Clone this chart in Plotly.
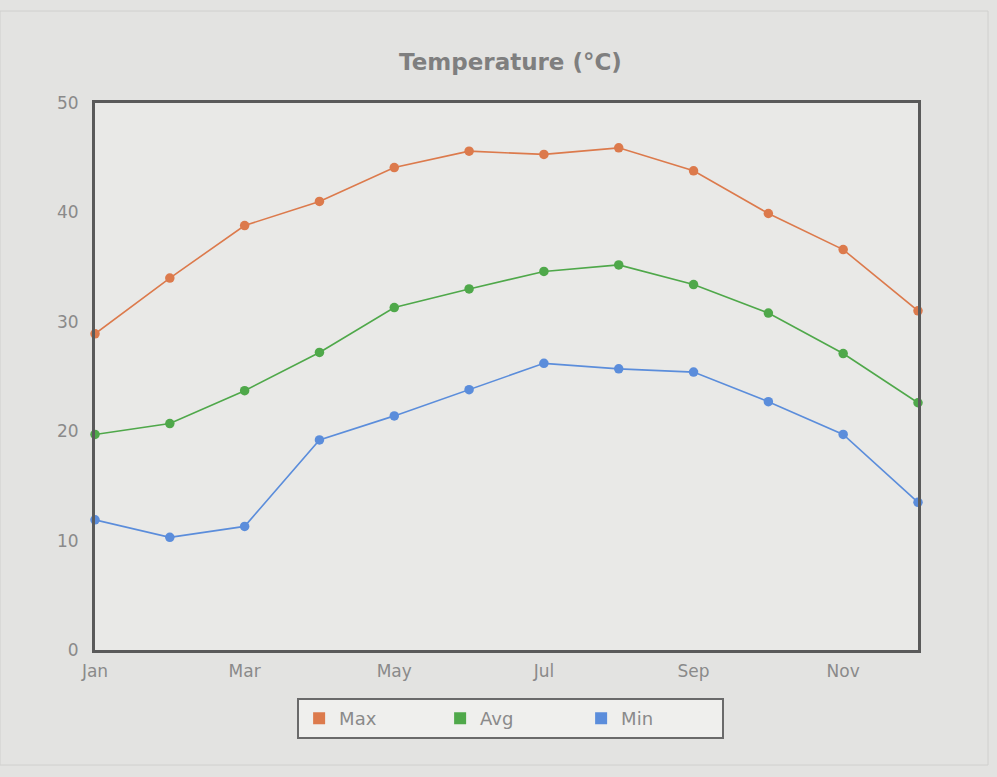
import plotly.graph_objects as go

months = ["Jan", "Feb", "Mar", "Apr", "May", "Jun", "Jul", "Aug", "Sep", "Oct", "Nov", "Dec"]
max_temp = [28.9, 34.0, 38.8, 41.0, 44.1, 45.6, 45.3, 45.9, 43.8, 39.9, 36.6, 31.0]
avg_temp = [19.7, 20.7, 23.7, 27.2, 31.3, 33.0, 34.6, 35.2, 33.4, 30.8, 27.1, 22.6]
min_temp = [11.9, 10.3, 11.3, 19.2, 21.4, 23.8, 26.2, 25.7, 25.4, 22.7, 19.7, 13.5]
x_ticks = ["Jan", "Mar", "May", "Jul", "Sep", "Nov"]

series = [
    ("Max", max_temp, "#dc7a4c"),
    ("Avg", avg_temp, "#4fa84a"),
    ("Min", min_temp, "#5b8ddb"),
]

xs = list(range(len(months)))
fig = go.Figure()
for name, vals, color in series:
    fig.add_trace(go.Scatter(
        x=xs, y=vals, mode="lines+markers", name=name,
        line=dict(color=color, width=1.6),
        marker=dict(color=color, size=9.5),
        cliponaxis=False, showlegend=False,
        hovertext=months,
    ))
for name, vals, color in series:
    fig.add_trace(go.Scatter(
        x=[None], y=[None], mode="markers", name=name,
        marker=dict(color=color, size=14, symbol="square"),
        showlegend=True,
    ))

fig.update_layout(
    width=997, height=777,
    margin=dict(l=95, r=79, t=103, b=127),
    paper_bgcolor="#e3e3e1",
    plot_bgcolor="#e9e9e7",
    font=dict(family="DejaVu Sans", color="#8a8a8a", size=17),
    title=dict(text="<b>Temperature (°C)</b>", x=0.512, xanchor="center",
               y=1 - 62 / 777, yanchor="middle",
               font=dict(size=23, color="#7f7f7f", family="DejaVu Sans")),
    xaxis=dict(range=[0, 11], tickvals=[0, 2, 4, 6, 8, 10], ticktext=x_ticks,
               showgrid=False, zeroline=False, showline=True, linecolor="#5a5a5a",
               linewidth=3, mirror=True, ticks="", ticklabelstandoff=4),
    yaxis=dict(range=[0, 50], tickvals=[0, 10, 20, 30, 40, 50],
               showgrid=False, zeroline=False, showline=True, linecolor="#5a5a5a",
               linewidth=3, mirror=True, ticks="", ticklabelstandoff=10),
    legend=dict(orientation="h", x=0.505, xanchor="center", y=-0.088, yanchor="top",
                bgcolor="#efefed", bordercolor="#6a6a6a", borderwidth=2,
                font=dict(size=18, color="#8a8a8a"), entrywidth=96,
                itemsizing="constant"),
    showlegend=True,
)
fig.add_shape(type="rect", xref="paper", yref="paper",
              x0=-95 / 823, x1=1 + 70 / 823, y0=-115 / 547, y1=1 + 92 / 547,
              line=dict(color="#d0d0ce", width=1), layer="below")

fig.write_html("out.html")
